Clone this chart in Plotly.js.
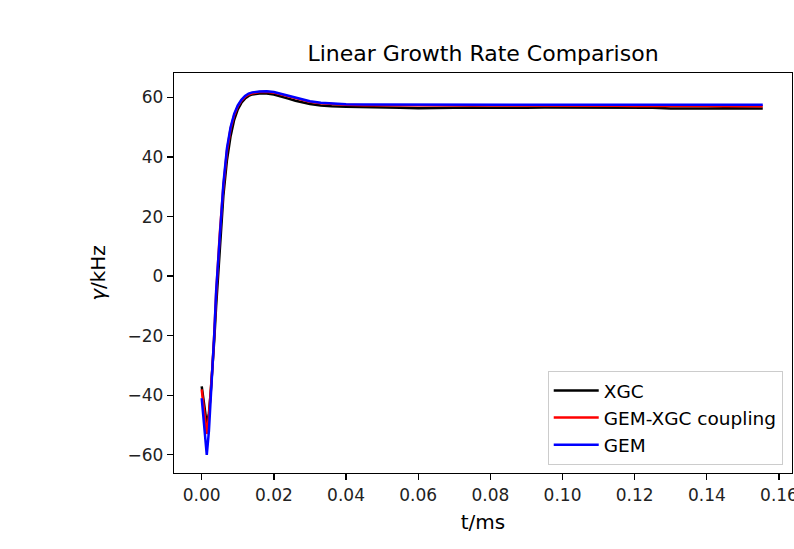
<!DOCTYPE html>
<html>
<head>
<meta charset="utf-8">
<script src="https://cdn.plot.ly/plotly-3.0.1.min.js"></script>
<style>html,body{margin:0;padding:0;background:#fff;}#chart{width:794px;height:549px;}</style>
</head>
<body>
<div id="chart"></div>
<script>
var tMs = [0, 0.0005, 0.001, 0.0014, 0.002, 0.0025, 0.003, 0.0035, 0.004, 0.005, 0.006, 0.007, 0.008, 0.009, 0.010, 0.011, 0.012, 0.013, 0.014, 0.016, 0.018, 0.020, 0.022, 0.024, 0.026, 0.028, 0.030, 0.033, 0.036, 0.040, 0.045, 0.050, 0.055, 0.060, 0.065, 0.070, 0.075, 0.080, 0.085, 0.090, 0.095, 0.100, 0.105, 0.110, 0.115, 0.120, 0.125, 0.130, 0.135, 0.140, 0.145, 0.150, 0.1555];

var xgc = [-37, -41, -46, -50, -46, -39, -31, -21, -10, 10, 27, 39, 47, 52.5, 56, 58.2, 59.6, 60.5, 61.0, 61.3, 61.3, 61.0, 60.4, 59.6, 58.9, 58.3, 57.8, 57.3, 57.0, 56.9, 56.7, 56.6, 56.5, 56.4, 56.5, 56.5, 56.6, 56.5, 56.4, 56.5, 56.6, 56.6, 56.5, 56.4, 56.5, 56.6, 56.5, 56.3, 56.2, 56.3, 56.4, 56.4, 56.3];

var coupling = [-38, -43, -49, -53, -47, -39, -30, -19, -6, 14, 30, 42, 49.5, 54, 57, 58.9, 60.2, 61.0, 61.4, 61.8, 61.9, 61.6, 61.0, 60.3, 59.6, 59.0, 58.5, 58.0, 57.7, 57.5, 57.4, 57.4, 57.3, 57.3, 57.3, 57.3, 57.2, 57.3, 57.3, 57.2, 57.2, 57.3, 57.2, 57.2, 57.2, 57.1, 57.2, 57.1, 57.1, 57.1, 57.1, 57.0, 57.0];

var gem = [-41, -47, -54, -60, -52, -42, -31, -19, -5, 15, 31, 43, 50, 54.5, 57.3, 59.2, 60.5, 61.3, 61.7, 62.0, 62.1, 61.8, 61.2, 60.5, 59.8, 59.2, 58.7, 58.2, 57.9, 57.7, 57.6, 57.6, 57.6, 57.5, 57.5, 57.5, 57.5, 57.6, 57.5, 57.5, 57.5, 57.5, 57.5, 57.5, 57.5, 57.5, 57.5, 57.5, 57.5, 57.5, 57.5, 57.5, 57.5];

var seriesNames = ["XGC", "GEM-XGC coupling", "GEM"];
var seriesColors = ["#000000", "#ff0000", "#0000ff"];
var seriesValues = [xgc, coupling, gem];

var traces = seriesValues.map(function (v, i) {
  return {
    x: tMs, y: v, type: "scatter", mode: "lines", name: seriesNames[i],
    line: {color: seriesColors[i], width: 2.5}
  };
});

var font = "DejaVu Sans, sans-serif";
var layout = {
  width: 794, height: 549,
  margin: {l: 174, r: 2, t: 73, b: 76},
  paper_bgcolor: "#fff", plot_bgcolor: "#fff",
  font: {family: font, size: 17, color: "#000"},
  title: {text: "Linear Growth Rate Comparison", font: {family: font, size: 22, color: "#000"},
          x: 0.5, xref: "paper", xanchor: "center", y: 1 - 53 / 549, yanchor: "middle"},
  xaxis: {
    range: [-0.00768, 0.1636], tick0: 0, dtick: 0.02, tickformat: ".2f",
    showgrid: false, zeroline: false, showline: true, mirror: true,
    linecolor: "#000", linewidth: 1.3, ticks: "outside", ticklen: 6, tickwidth: 1.3, tickcolor: "#000",
    tickfont: {family: font, size: 17, color: "#222"}, ticklabeloverflow: "allow",
    title: {text: "t/ms", font: {family: font, size: 20, color: "#000"}, standoff: 11}
  },
  yaxis: {
    range: [-66.1, 68.2], tick0: 0, dtick: 20,
    showgrid: false, zeroline: false, showline: true, mirror: true,
    linecolor: "#000", linewidth: 1.3, ticks: "outside", ticklen: 6, tickwidth: 1.3, tickcolor: "#000",
    tickfont: {family: font, size: 17, color: "#222"},
    title: {text: "<i>γ</i>/kHz", font: {family: font, size: 20, color: "#000"}, standoff: 16}
  },
  showlegend: true,
  legend: {
    x: 0.985, y: 0.02, xanchor: "right", yanchor: "bottom",
    bgcolor: "rgba(255,255,255,0.9)", bordercolor: "#cccccc", borderwidth: 1,
    font: {family: font, size: 18.5, color: "#000"}, tracegroupgap: 0, itemwidth: 45
  }
};

Plotly.newPlot("chart", traces, layout, {displayModeBar: false, staticPlot: true});
</script>
</body>
</html>
